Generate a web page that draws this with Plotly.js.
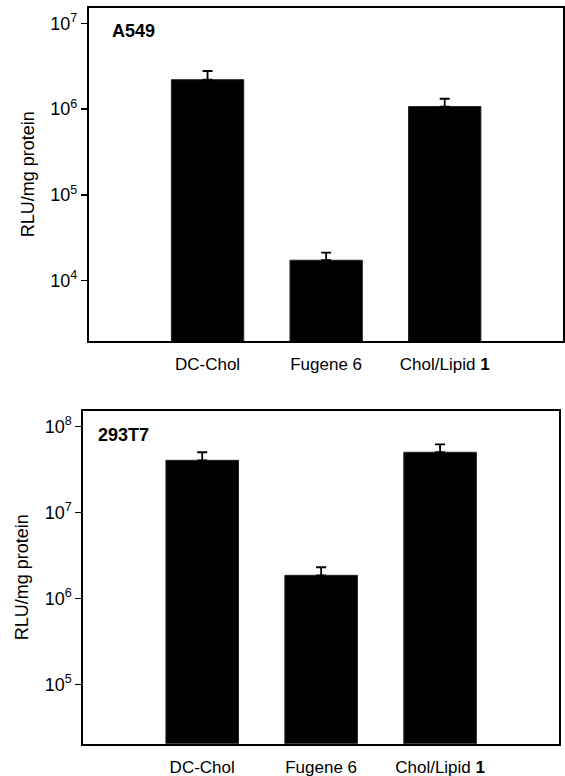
<!DOCTYPE html>
<html>
<head>
<meta charset="utf-8">
<script src="https://cdn.plot.ly/plotly-3.0.1.min.js"></script>
<style>html,body{margin:0;padding:0;background:#fff;}#chart{width:565px;height:776px;}</style>
</head>
<body>
<div id="chart"></div>
<script>
// Data
const categories = ['DC-Chol', 'Fugene 6', 'Chol/Lipid <b>1</b>'];
const a549Values = [2.2e6, 1.73e4, 1.07e6];
const a549ErrUp = [0.58e6, 0.39e4, 0.25e6];
const t7Values = [4.06e7, 1.86e6, 5.04e7];
const t7ErrUp = [0.98e7, 0.45e6, 1.2e7];
const a549TickVals = [1e4, 1e5, 1e6, 1e7];
const a549TickText = ['10<sup>4</sup>', '10<sup>5</sup>', '10<sup>6</sup>', '10<sup>7</sup>'];
const t7TickVals = [1e5, 1e6, 1e7, 1e8];
const t7TickText = ['10<sup>5</sup>', '10<sup>6</sup>', '10<sup>7</sup>', '10<sup>8</sup>'];
const panelTitles = ['A549', '293T7'];
const yTitle = 'RLU/mg protein';

const FONT = 'Liberation Sans, Arial, sans-serif';

function barTrace(vals, errs, xa, ya) {
  return {
    type: 'bar', x: categories, y: vals, xaxis: xa, yaxis: ya,
    width: 0.61,
    marker: {color: '#000', line: {color: '#222', width: 1}},
    error_y: {type: 'data', symmetric: false, array: errs, arrayminus: errs.map(() => 0),
              color: '#000', thickness: 1.8, width: 5},
    showlegend: false, hoverinfo: 'skip'
  };
}

const data = [
  barTrace(a549Values, a549ErrUp, 'x', 'y'),
  barTrace(t7Values, t7ErrUp, 'x2', 'y2')
];

const commonX = {
  type: 'category', range: [-1, 3], showline: true, mirror: true, linecolor: '#000', linewidth: 2,
  ticks: '', showgrid: false, zeroline: false, fixedrange: true,
  tickfont: {family: FONT, size: 17, color: '#000'}, ticklabelstandoff: 7
};
const commonY = {
  type: 'log', showline: true, mirror: true, linecolor: '#000', linewidth: 2,
  ticks: 'outside', ticklen: 6, tickwidth: 1.5, tickcolor: '#000', showgrid: false, zeroline: false,
  tickfont: {family: FONT, size: 18, color: '#000'},
  title: {text: yTitle, font: {family: FONT, size: 18, color: '#000'}, standoff: 11}
};

const layout = {
  width: 565, height: 776,
  margin: {l: 0, r: 0, t: 0, b: 0},
  paper_bgcolor: '#fff', plot_bgcolor: '#fff',
  bargap: 0.39,
  xaxis: Object.assign({}, commonX, {domain: [0.1575, 0.997], anchor: 'y'}),
  yaxis: Object.assign({}, commonY, {domain: [0.5606, 0.9903], anchor: 'x', range: [3.297, 7.184],
                                     tickvals: a549TickVals, ticktext: a549TickText}),
  xaxis2: Object.assign({}, commonX, {domain: [0.1474, 0.9894], anchor: 'y2'}),
  yaxis2: Object.assign({}, commonY, {domain: [0.0416, 0.4707], anchor: 'x2', range: [4.309, 8.186],
                                      tickvals: t7TickVals, ticktext: t7TickText}),
  annotations: [
    {xref: 'x domain', yref: 'y domain', x: 0.044, y: 0.93, xanchor: 'left', yanchor: 'middle',
     text: '<b>' + panelTitles[0] + '</b>', showarrow: false, font: {family: FONT, size: 18, color: '#000'}},
    {xref: 'x2 domain', yref: 'y2 domain', x: 0.026, y: 0.927, xanchor: 'left', yanchor: 'middle',
     text: '<b>' + panelTitles[1] + '</b>', showarrow: false, font: {family: FONT, size: 18, color: '#000'}}
  ]
};

Plotly.newPlot('chart', data, layout, {staticPlot: true, displayModeBar: false});
</script>
</body>
</html>
